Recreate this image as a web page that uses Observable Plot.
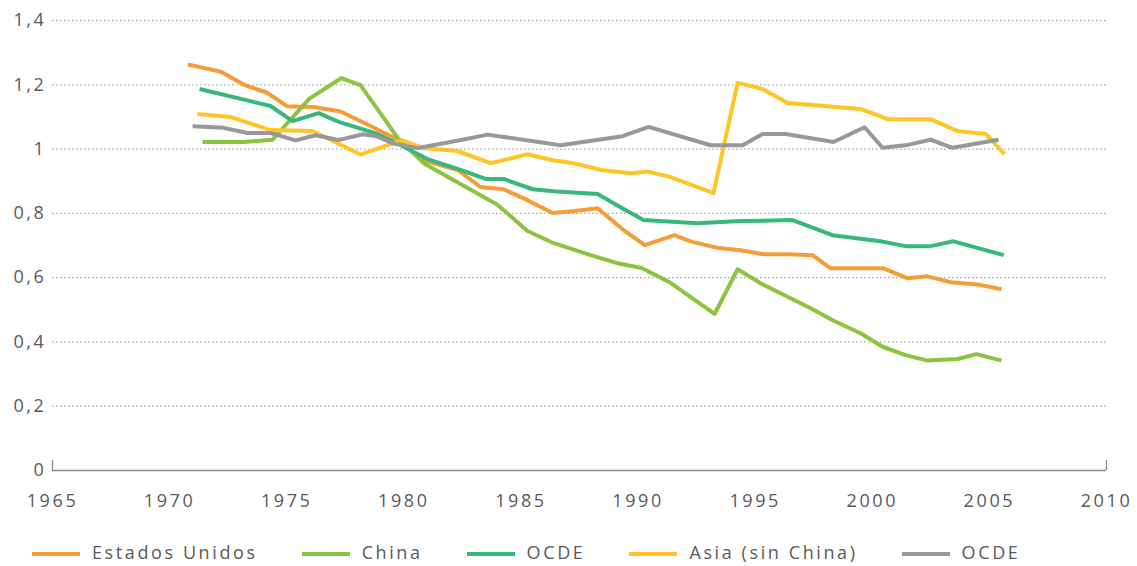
<!DOCTYPE html>
<html>
<head>
<meta charset="utf-8">
<script src="https://cdn.jsdelivr.net/npm/d3@7"></script>
<script src="https://cdn.jsdelivr.net/npm/@observablehq/plot@0.6"></script>
<style>
  html, body { margin: 0; padding: 0; background: #fff; }
  #wrap { position: relative; width: 1137px; height: 566px; font-family: "Open Sans", sans-serif; }
  #legend { position: absolute; left: 32px; top: 541px; height: 22px; line-height: 22px; display: flex; align-items: center;
            font-size: 18px; letter-spacing: 2.6px; color: #595959; white-space: nowrap; }
  .item { display: flex; align-items: center; margin-right: 44px; }
  .sw { width: 48px; height: 4px; margin-right: 12px; margin-top: 3px; }
</style>
</head>
<body>
<div id="wrap"><div id="chart"></div><div id="legend"></div></div>
<script>
// ---- data ----
const seriesLabels = ["Estados Unidos", "China", "OCDE", "Asia (sin China)", "OCDE"];
const seriesColors = ["#F69C37", "#8CC43F", "#37B779", "#FFC425", "#98989C"];

const usYears = [1970.78,1972.17,1973.24,1974.14,1975.03,1976.14,1977.30,1978.58,1979.77,1980.80,1982.29,1983.27,1984.26,1985.28,1986.35,1987.29,1988.27,1989.38,1990.29,1991.56,1992.24,1993.44,1994.38,1995.36,1996.38,1997.45,1998.22,1999.37,2000.48,2001.51,2002.36,2003.34,2004.50,2005.52];
const usValues = [1.263,1.241,1.198,1.176,1.133,1.131,1.117,1.072,1.028,0.966,0.935,0.882,0.875,0.841,0.801,0.807,0.816,0.748,0.701,0.732,0.713,0.692,0.685,0.673,0.673,0.670,0.629,0.629,0.629,0.598,0.604,0.586,0.579,0.564];

const chinaYears = [1971.40,1973.16,1974.39,1975.97,1977.34,1978.15,1979.77,1980.88,1984.00,1985.28,1986.31,1987.97,1989.12,1990.15,1991.34,1993.27,1994.25,1995.27,1997.37,1998.35,1999.50,2000.44,2001.42,2002.36,2003.64,2004.45,2005.52];
const chinaValues = [1.022,1.022,1.029,1.157,1.221,1.199,1.032,0.954,0.827,0.745,0.710,0.670,0.645,0.630,0.586,0.487,0.626,0.581,0.505,0.466,0.427,0.385,0.359,0.342,0.347,0.362,0.342];

const ocdeYears = [1971.28,1974.31,1975.25,1976.36,1977.25,1978.88,1979.86,1981.01,1982.42,1983.49,1984.26,1985.50,1986.39,1988.27,1989.25,1990.23,1992.54,1994.38,1996.60,1998.30,2000.35,2001.42,2002.49,2003.47,2005.61];
const ocdeValues = [1.187,1.134,1.087,1.112,1.084,1.047,1.012,0.969,0.935,0.907,0.907,0.875,0.869,0.860,0.819,0.779,0.769,0.776,0.779,0.732,0.713,0.698,0.698,0.713,0.670];

const asiaYears = [1971.19,1972.60,1974.31,1976.10,1978.15,1979.90,1980.84,1982.29,1983.70,1985.28,1986.31,1987.25,1988.44,1989.68,1990.41,1991.39,1993.22,1994.25,1995.32,1996.38,1997.45,1998.48,1999.50,2000.65,2002.49,2003.64,2004.84,2005.65];
const asiaValues = [1.109,1.100,1.059,1.056,0.983,1.028,1.003,0.994,0.956,0.984,0.966,0.956,0.935,0.925,0.930,0.913,0.863,1.206,1.187,1.143,1.137,1.131,1.125,1.093,1.093,1.056,1.047,0.984];

const ocde2Years = [1970.98,1972.30,1973.33,1974.31,1975.38,1976.23,1977.21,1978.24,1978.83,1979.56,1980.58,1981.01,1982.55,1983.57,1986.69,1989.34,1990.45,1993.10,1994.46,1995.32,1996.30,1998.35,1999.67,2000.44,2001.51,2002.49,2003.43,2005.39];
const ocde2Values = [1.071,1.066,1.050,1.050,1.027,1.043,1.028,1.046,1.040,1.017,1.003,1.009,1.030,1.045,1.012,1.040,1.069,1.012,1.012,1.047,1.047,1.022,1.068,1.004,1.013,1.029,1.004,1.029];

const xTicks = [1965,1970,1975,1980,1985,1990,1995,2000,2005,2010];
const yTicks = [0,0.2,0.4,0.6,0.8,1,1.2,1.4];

// ---- build table ----
const seriesYears = [usYears, chinaYears, ocdeYears, asiaYears, ocde2Years];
const seriesValues = [usValues, chinaValues, ocdeValues, asiaValues, ocde2Values];
const rows = seriesYears.flatMap((ys, i) => ys.map((y, j) => ({series: i, year: y, value: seriesValues[i][j]})));

const lineMarks = seriesLabels.map((lab, i) =>
  Plot.line(rows.filter(r => r.series === i), {
    x: "year", y: "value", stroke: seriesColors[i], strokeWidth: 4,
    strokeLinecap: "butt", strokeLinejoin: "round"
  })
);

const chart = Plot.plot({
  width: 1137,
  height: 530,
  marginLeft: 52,
  marginRight: 31,
  marginTop: 20,
  marginBottom: 60,
  style: {fontFamily: "'Open Sans', sans-serif", fontSize: "18px", color: "#595959", letterSpacing: "2.6px", background: "#fff"},
  x: {domain: [1965, 2010]},
  y: {domain: [0, 1.4]},
  marks: [
    Plot.gridY(yTicks.filter(d => d > 0), {stroke: "#a6a6a6", strokeOpacity: 1, strokeWidth: 1.3, strokeDasharray: "1.5 2.5"}),
    Plot.ruleY([0], {stroke: "#8c8c8c", strokeWidth: 1.3}),
    Plot.axisY(yTicks, {tickSize: 0, tickPadding: 6, label: null, tickFormat: d => String(d).replace(".", ",")}),
    Plot.axisX(xTicks, {tickSize: 0, tickPadding: 24, label: null, tickFormat: d => String(d)}),
    Plot.axisX([xTicks[0], xTicks[xTicks.length - 1]], {tickSize: 10, dy: -10, label: null, tickFormat: () => "", stroke: "#8c8c8c", strokeWidth: 1.3}),
    ...lineMarks
  ]
});
document.getElementById("chart").appendChild(chart);

// ---- legend ----
const legend = document.getElementById("legend");
seriesLabels.forEach((lab, i) => {
  const it = document.createElement("div");
  it.className = "item";
  const sw = document.createElement("div");
  sw.className = "sw";
  sw.style.background = seriesColors[i];
  const tx = document.createElement("span");
  tx.textContent = lab;
  it.appendChild(sw);
  it.appendChild(tx);
  legend.appendChild(it);
});
</script>
</body>
</html>
